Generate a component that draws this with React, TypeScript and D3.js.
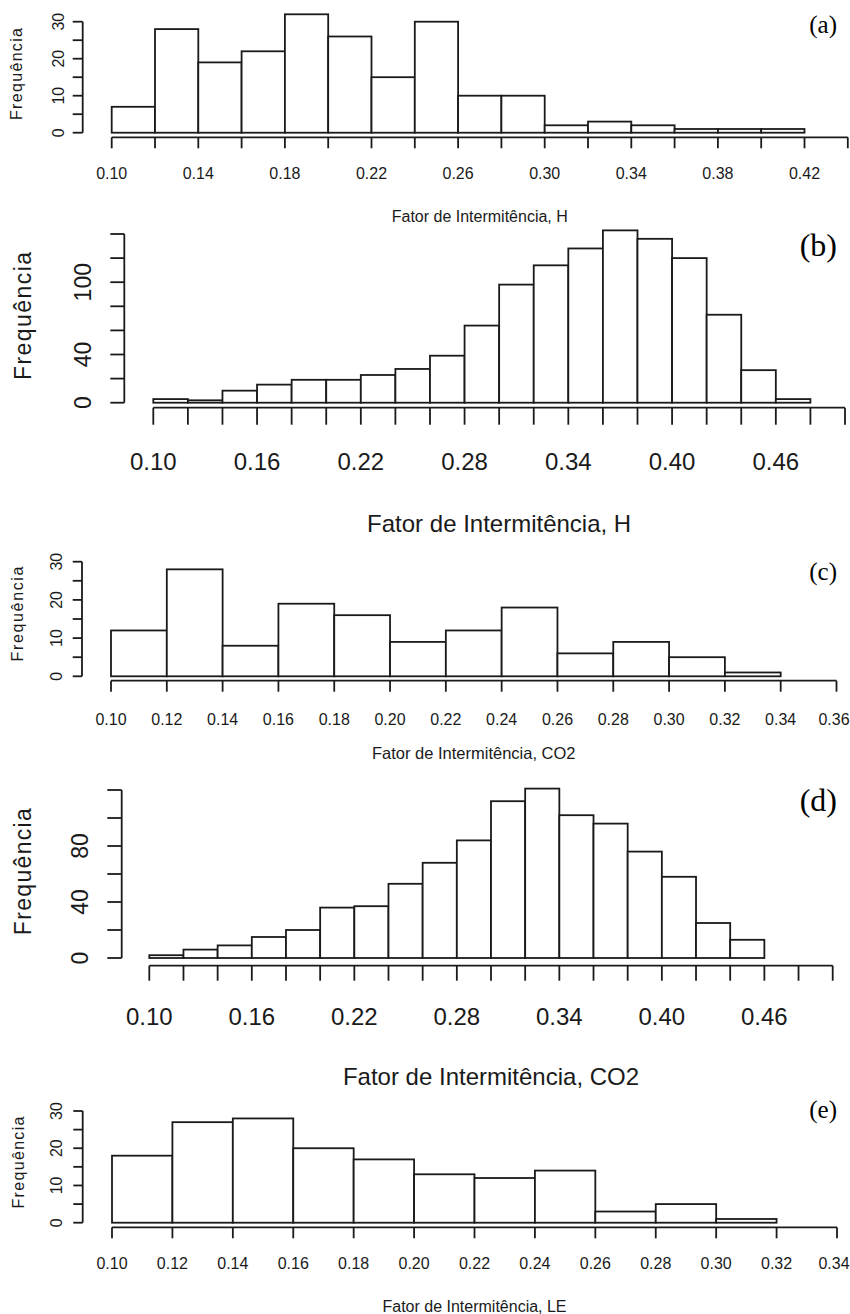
import React, { useEffect, useRef } from "react";
import * as d3 from "d3";

// histogram counts, bins of width 0.02 starting at 0.10
const binStart = 0.1;
const binWidth = 0.02;
const countsA = [7, 28, 19, 22, 32, 26, 15, 30, 10, 10, 2, 3, 2, 1, 1, 1];
const countsB = [3, 2, 10, 15, 19, 19, 23, 28, 39, 64, 98, 114, 128, 143, 136, 120, 73, 27, 3];
const countsC = [12, 28, 8, 19, 16, 9, 12, 18, 6, 9, 5, 1];
const countsD = [2, 6, 9, 15, 20, 36, 37, 53, 68, 84, 112, 121, 102, 96, 76, 58, 25, 13];
const countsE = [18, 27, 28, 20, 17, 13, 12, 14, 3, 5, 1];

const xLabelsA = ["0.10", "0.14", "0.18", "0.22", "0.26", "0.30", "0.34", "0.38", "0.42"];
const xLabelsB = ["0.10", "0.16", "0.22", "0.28", "0.34", "0.40", "0.46"];
const xLabelsC = ["0.10", "0.12", "0.14", "0.16", "0.18", "0.20", "0.22", "0.24", "0.26", "0.28", "0.30", "0.32", "0.34", "0.36"];
const xLabelsD = ["0.10", "0.16", "0.22", "0.28", "0.34", "0.40", "0.46"];
const xLabelsE = ["0.10", "0.12", "0.14", "0.16", "0.18", "0.20", "0.22", "0.24", "0.26", "0.28", "0.30", "0.32", "0.34"];

const yTicksSmall = [0, 5, 10, 15, 20, 25, 30];
const yLabelsSmall = [0, 10, 20, 30];
const yTicksB = [0, 20, 40, 60, 80, 100, 120, 140];
const yLabelsB = [0, 40, 100];
const yTicksD = [0, 20, 40, 60, 80, 100, 120];
const yLabelsD = [0, 40, 80];

const titles = [
  "Fator de Intermitência, H",
  "Fator de Intermitência, H",
  "Fator de Intermitência, CO2",
  "Fator de Intermitência, CO2",
  "Fator de Intermitência, LE",
];
const tags = ["(a)", "(b)", "(c)", "(d)", "(e)"];

// layout of each panel (pixels)
const panels = [
  {
    counts: countsA, xMax: 0.44, xLabels: xLabelsA, yTicks: yTicksSmall, yLabels: yLabelsSmall, yMax: 30,
    x0: 111.7, x1: 847.8, y0: 132.7, y1: 21.7, axisY: 137.3, xTick: 11, xLabY: 173, titleY: 216.7,
    yAxisX: 82.7, yTick: 10, yLabX: 58, ylabX: 16, ylabY: 74, ylabLen: 92,
    font: 16, titleFont: 16, yFont: 16, tagFont: 25, tagY: 33,
  },
  {
    counts: countsB, xMax: 0.5, xLabels: xLabelsB, yTicks: yTicksB, yLabels: yLabelsB, yMax: 140,
    x0: 153.3, x1: 845, y0: 402.7, y1: 234, axisY: 407.7, xTick: 17, xLabY: 461.7, titleY: 523,
    yAxisX: 124.3, yTick: 14, yLabX: 82.7, ylabX: 22.7, ylabY: 316, ylabLen: 128,
    font: 24, titleFont: 24, yFont: 23, tagFont: 32, tagY: 256,
  },
  {
    counts: countsC, xMax: 0.36, xLabels: xLabelsC, yTicks: yTicksSmall, yLabels: yLabelsSmall, yMax: 30,
    x0: 111, x1: 836.5, y0: 676.3, y1: 561.7, axisY: 680.7, xTick: 11, xLabY: 719, titleY: 753,
    yAxisX: 82, yTick: 9.3, yLabX: 56.7, ylabX: 17.3, ylabY: 614, ylabLen: 95,
    font: 16, titleFont: 16.5, yFont: 16, tagFont: 25, tagY: 580,
  },
  {
    counts: countsD, xMax: 0.5, xLabels: xLabelsD, yTicks: yTicksD, yLabels: yLabelsD, yMax: 120,
    x0: 149.3, x1: 832.7, y0: 958, y1: 790, axisY: 965.7, xTick: 15, xLabY: 1016.7, titleY: 1076.7,
    yAxisX: 121.7, yTick: 14.4, yLabX: 80, ylabX: 22.7, ylabY: 871.7, ylabLen: 127,
    font: 24, titleFont: 24, yFont: 23, tagFont: 32, tagY: 811,
  },
  {
    counts: countsE, xMax: 0.34, xLabels: xLabelsE, yTicks: yTicksSmall, yLabels: yLabelsSmall, yMax: 30,
    x0: 112, x1: 837, y0: 1222.7, y1: 1111, axisY: 1227.3, xTick: 11, xLabY: 1263.3, titleY: 1306,
    yAxisX: 82.7, yTick: 9.4, yLabX: 56.7, ylabX: 18.3, ylabY: 1162.5, ylabLen: 92,
    font: 16, titleFont: 16, yFont: 16, tagFont: 25, tagY: 1118,
  },
];

const sans = "'Liberation Sans', Arial, sans-serif";
const serif = "'Liberation Serif', 'Times New Roman', serif";
const ink = "#1a1a1a";

const App = () => {
  const ref = useRef<SVGSVGElement>(null);

  useEffect(() => {
    const svg = d3.select(ref.current);
    svg.selectAll("*").remove();

    panels.forEach((p, i) => {
      const g = svg.append("g");
      const x = d3.scaleLinear().domain([binStart, p.xMax]).range([p.x0, p.x1]);
      const y = d3.scaleLinear().domain([0, p.yMax]).range([p.y0, p.y1]);

      // bars
      g.selectAll("rect")
        .data(p.counts)
        .join("rect")
        .attr("x", (d, k) => x(binStart + k * binWidth))
        .attr("width", (d, k) => x(binStart + (k + 1) * binWidth) - x(binStart + k * binWidth))
        .attr("y", (d) => y(d))
        .attr("height", (d) => y(0) - y(d))
        .attr("fill", "white")
        .attr("stroke", ink)
        .attr("stroke-width", 1.8);

      // x axis
      const nTicks = Math.round((p.xMax - binStart) / binWidth);
      const xTicks = d3.range(nTicks + 1).map((k) => binStart + k * binWidth);
      g.append("line")
        .attr("x1", x(binStart)).attr("x2", x(p.xMax))
        .attr("y1", p.axisY).attr("y2", p.axisY)
        .attr("stroke", ink).attr("stroke-width", 1.8);
      g.selectAll(".xt")
        .data(xTicks)
        .join("line")
        .attr("class", "xt")
        .attr("x1", (d) => x(d)).attr("x2", (d) => x(d))
        .attr("y1", p.axisY).attr("y2", p.axisY + p.xTick)
        .attr("stroke", ink).attr("stroke-width", 1.8);
      g.selectAll(".xl")
        .data(p.xLabels)
        .join("text")
        .attr("class", "xl")
        .attr("x", (d) => Math.min(x(+d), 850 - p.font))
        .attr("y", p.xLabY)
        .attr("text-anchor", "middle")
        .attr("dominant-baseline", "central")
        .attr("font-family", sans)
        .attr("font-size", p.font)
        .attr("fill", ink)
        .text((d) => d);

      // y axis
      g.append("line")
        .attr("x1", p.yAxisX).attr("x2", p.yAxisX)
        .attr("y1", y(0)).attr("y2", y(p.yTicks[p.yTicks.length - 1]))
        .attr("stroke", ink).attr("stroke-width", 1.8);
      g.selectAll(".yt")
        .data(p.yTicks)
        .join("line")
        .attr("class", "yt")
        .attr("x1", p.yAxisX - p.yTick).attr("x2", p.yAxisX)
        .attr("y1", (d) => y(d)).attr("y2", (d) => y(d))
        .attr("stroke", ink).attr("stroke-width", 1.8);
      g.selectAll(".yl")
        .data(p.yLabels)
        .join("text")
        .attr("class", "yl")
        .attr("transform", (d) => `translate(${p.yLabX},${y(d)}) rotate(-90)`)
        .attr("text-anchor", "middle")
        .attr("dominant-baseline", "central")
        .attr("font-family", sans)
        .attr("font-size", p.yFont)
        .attr("fill", ink)
        .text((d) => d);

      // axis titles
      g.append("text")
        .attr("x", (p.x0 + p.x1) / 2)
        .attr("y", p.titleY)
        .attr("text-anchor", "middle")
        .attr("dominant-baseline", "central")
        .attr("font-family", sans)
        .attr("font-size", p.titleFont)
        .attr("fill", ink)
        .text(titles[i]);
      g.append("text")
        .attr("transform", `translate(${p.ylabX},${p.ylabY}) rotate(-90)`)
        .attr("text-anchor", "middle")
        .attr("dominant-baseline", "central")
        .attr("font-family", sans)
        .attr("font-size", p.yFont)
        .attr("textLength", p.ylabLen)
        .attr("lengthAdjust", "spacing")
        .attr("fill", ink)
        .text("Frequência");

      // panel tag
      g.append("text")
        .attr("x", 837)
        .attr("y", p.tagY)
        .attr("text-anchor", "end")
        .attr("font-family", serif)
        .attr("font-size", p.tagFont)
        .attr("fill", "black")
        .text(tags[i]);
    });
  });

  return (
    <div style={{ position: "absolute", left: 0, top: 0 }}>
      <svg ref={ref} width={850} height={1314} style={{ display: "block", background: "white" }}></svg>
    </div>
  );
};

export default App;
